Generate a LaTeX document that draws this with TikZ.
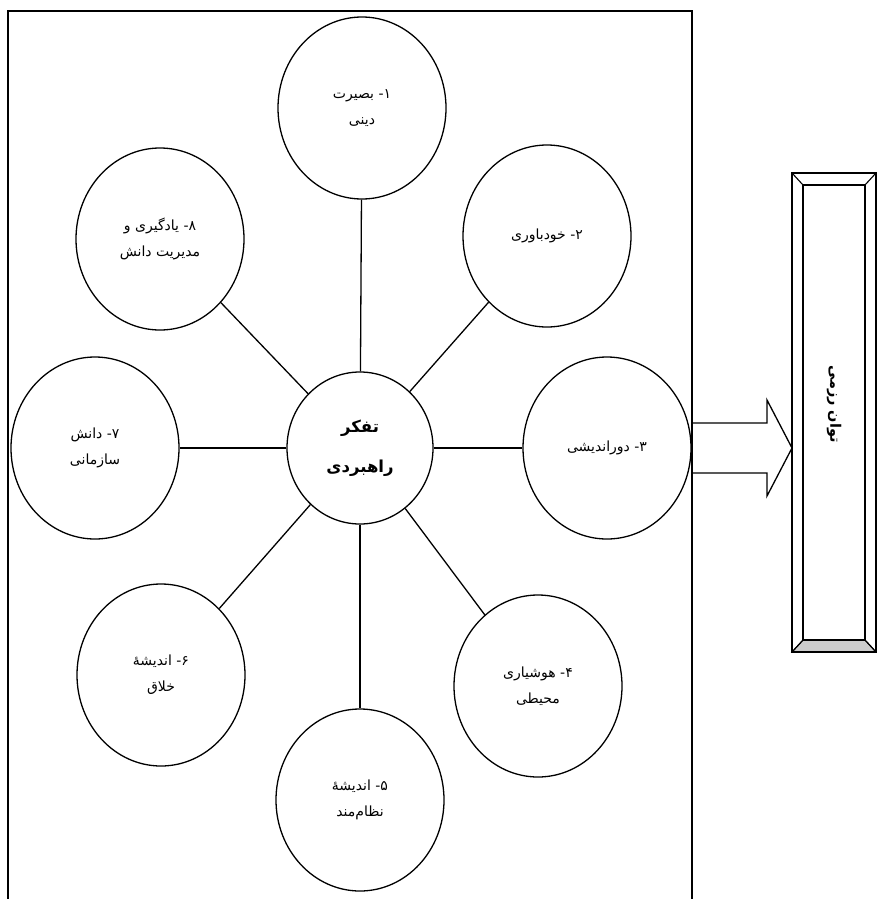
\documentclass[tikz,border=0pt]{standalone}
\usepackage{fontspec}
\newfontfamily\fafont[Script=Arabic]{DejaVu Sans}
\TeXXeTstate=1
\usetikzlibrary{shapes.geometric}

\tikzset{
  item/.style={ellipse,draw,line width=1.3pt,minimum width=168pt,minimum height=182pt,
    inner sep=0pt,align=center,font=\fafont\fontsize{14}{26}\selectfont},
  hub/.style={ellipse,draw,line width=1.3pt,minimum width=146pt,minimum height=152pt,
    inner sep=0pt,align=center,font=\fafont\bfseries\fontsize{16.5}{40}\selectfont},
  spoke/.style={line width=1.3pt}
}

\begin{document}
\begin{tikzpicture}[x=1pt,y=-1pt]
\useasboundingbox (0,0) rectangle (877,899);
\draw[line width=1.6pt] (8,899) -- (8,11) -- (692,11) -- (692,899);

\node[hub]  (C)  at (360,448) {\beginR تفکر\endR\\\beginR راهبردی\endR};
\node[item] (I1) at (362,108) {\beginR ۱\kern0pt- بصیرت\endR\\\beginR دینی\endR};
\node[item] (I2) at (547,236) {\beginR ۲\kern0pt- خودباوری\endR};
\node[item] (I3) at (607,448) {\beginR ۳\kern0pt- دوراندیشی\endR};
\node[item] (I4) at (538,686) {\beginR ۴\kern0pt- هوشیاری\endR\\\beginR محیطی\endR};
\node[item] (I5) at (360,800) {\beginR ۵\kern0pt- اندیشهٔ\endR\\\beginR نظام‌مند\endR};
\node[item] (I6) at (161,675) {\beginR ۶\kern0pt- اندیشهٔ\endR\\\beginR خلاق\endR};
\node[item] (I7) at (95,448)  {\beginR ۷\kern0pt- دانش\endR\\\beginR سازمانی\endR};
\node[item] (I8) at (160,239) {\beginR ۸\kern0pt- یادگیری و\endR\\\beginR مدیریت دانش\endR};

\path[spoke] (C) edge (I1) (C) edge (I2) (C) edge (I3) (C) edge (I4)
             (C) edge (I5) (C) edge (I6) (C) edge (I7) (C) edge (I8);

% block arrow
\draw[line width=1.3pt] (692,423) -- (767,423) -- (767,400) -- (792,448)
  -- (767,496) -- (767,473) -- (692,473);

% bevelled panel
\coordinate (onw) at (792,173); \coordinate (one) at (876,173);
\coordinate (osw) at (792,652); \coordinate (ose) at (876,652);
\coordinate (inw) at (803,185); \coordinate (ine) at (865,185);
\coordinate (isw) at (803,640); \coordinate (ise) at (865,640);
\filldraw[fill=gray!40,line width=1.1pt] (osw) -- (isw) -- (ise) -- (ose) -- cycle;
\draw[line width=1.3pt] (onw) rectangle (ose);
\draw[line width=1.1pt] (inw) rectangle (ise);
\draw[line width=1.1pt] (onw) -- (inw) (one) -- (ine) (osw) -- (isw) (ose) -- (ise);
\node[rotate=-90,font=\fafont\bfseries\fontsize{14.5}{16}\selectfont] (T) at (834,404) {\beginR توان رزمی\endR};
\end{tikzpicture}
\end{document}
